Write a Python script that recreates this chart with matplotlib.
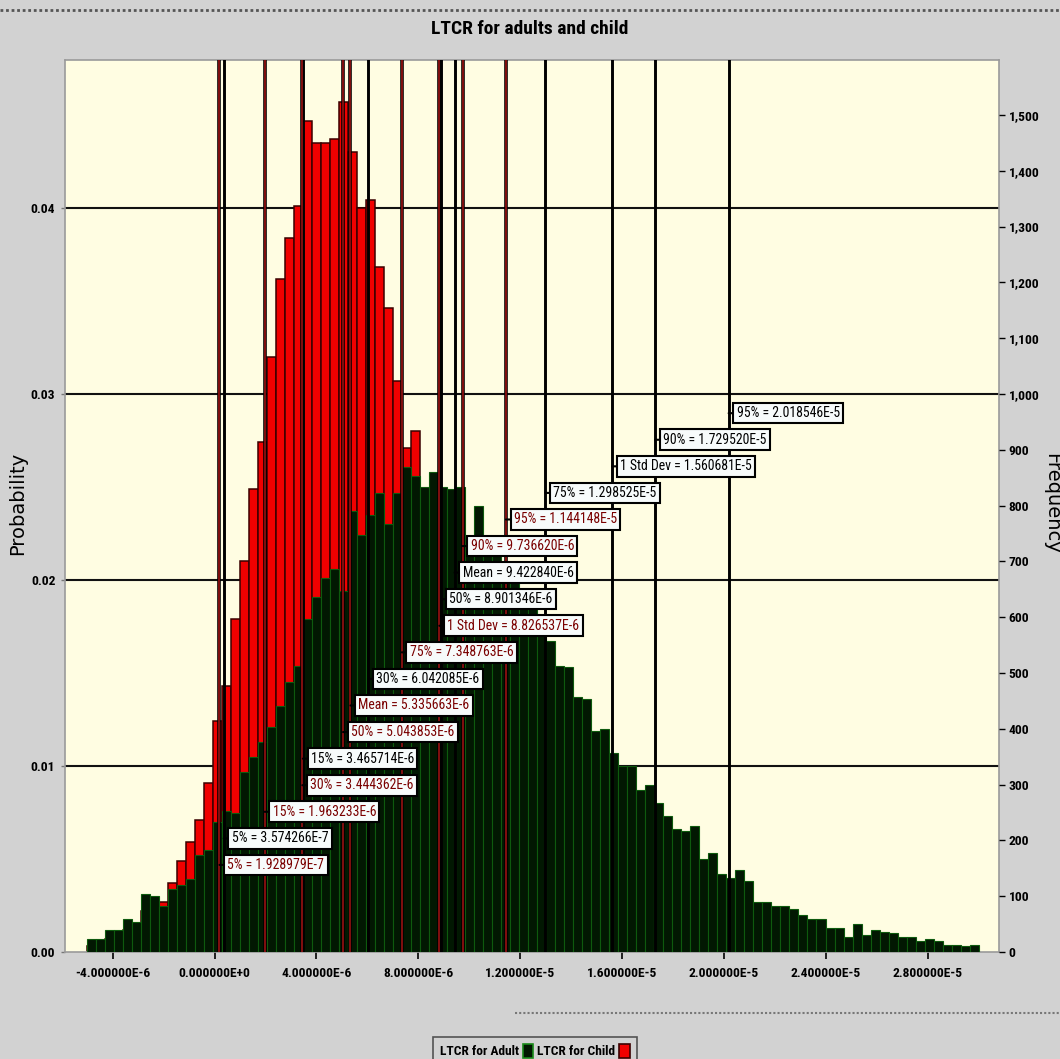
import numpy as np
import matplotlib
matplotlib.use("Agg")
import matplotlib.pyplot as plt
from matplotlib.lines import Line2D
from matplotlib.patches import Patch
from matplotlib import font_manager as fm

# ---------------- data ----------------
title = "LTCR for adults and child"
series_names = ["LTCR for Adult", "LTCR for Child"]

bin_start = -5.022e-6
bin_width = 3.538e-7

adult_prob = [
    0.0007, 0.0007, 0.0012, 0.0012, 0.0018, 0.0016, 0.0031, 0.0030, 0.0025, 0.0034,
    0.0036, 0.0039, 0.0052, 0.0055, 0.0070, 0.0076, 0.0075, 0.0097, 0.0105, 0.0113,
    0.0121, 0.0132, 0.0145, 0.0154, 0.0179, 0.0191, 0.0201, 0.0206, 0.0194, 0.0237,
    0.0224, 0.0235, 0.0247, 0.0230, 0.0247, 0.0261, 0.0256, 0.0250, 0.0258, 0.0250,
    0.0249, 0.0250, 0.0222, 0.0240, 0.0222, 0.0215, 0.0208, 0.0200, 0.0192, 0.0185,
    0.0177, 0.0167, 0.0154, 0.0153, 0.0137, 0.0136, 0.0119, 0.0120, 0.0107, 0.0100,
    0.0100, 0.0087, 0.0090, 0.0080, 0.0073, 0.0066, 0.0065, 0.0068, 0.0050, 0.0053,
    0.0042, 0.0040, 0.0044, 0.0038, 0.0027, 0.0027, 0.0025, 0.0025, 0.0023, 0.0020,
    0.0018, 0.0018, 0.0013, 0.0013, 0.0008, 0.0015, 0.0009, 0.0012, 0.0011, 0.0010,
    0.0008, 0.0008, 0.0006, 0.0007, 0.0006, 0.0004, 0.0004, 0.0003, 0.0004,
]

child_prob = [
    0.0003, 0.0004, 0.0007, 0.0009, 0.0012, 0.0013, 0.0022, 0.0024, 0.0027, 0.0037,
    0.0049, 0.0059, 0.0071, 0.0091, 0.0124, 0.0143, 0.0179, 0.0210, 0.0249, 0.0274,
    0.0320, 0.0362, 0.0384, 0.0401, 0.0447, 0.0435, 0.0435, 0.0437, 0.0457, 0.0430,
    0.0400, 0.0404, 0.0368, 0.0346, 0.0307, 0.0271, 0.0280, 0.0220, 0.0190, 0.0165,
    0.0140, 0.0118, 0.0098, 0.0080, 0.0064, 0.0050, 0.0039, 0.0030, 0.0022, 0.0016,
    0.0011, 0.0007, 0.0004, 0.0002, 0.0, 0.0, 0.0, 0.0, 0.0, 0.0,
    0.0, 0.0, 0.0, 0.0, 0.0, 0.0, 0.0, 0.0, 0.0, 0.0,
    0.0, 0.0, 0.0, 0.0, 0.0, 0.0, 0.0, 0.0, 0.0, 0.0,
    0.0, 0.0, 0.0, 0.0, 0.0, 0.0, 0.0, 0.0, 0.0, 0.0,
    0.0, 0.0, 0.0, 0.0, 0.0, 0.0, 0.0, 0.0, 0.0,
]

adult_stat_names = ["5%", "15%", "30%", "50%", "Mean", "75%", "1 Std Dev", "90%", "95%"]
adult_stat_values = [3.574266e-7, 3.465714e-6, 6.042085e-6, 8.901346e-6, 9.422840e-6,
                     1.298525e-5, 1.560681e-5, 1.729520e-5, 2.018546e-5]
adult_stat_text = ["3.574266E-7", "3.465714E-6", "6.042085E-6", "8.901346E-6", "9.422840E-6",
                   "1.298525E-5", "1.560681E-5", "1.729520E-5", "2.018546E-5"]

child_stat_names = ["5%", "15%", "30%", "50%", "Mean", "75%", "1 Std Dev", "90%", "95%"]
child_stat_values = [1.928979e-7, 1.963233e-6, 3.444362e-6, 5.043853e-6, 5.335663e-6,
                     7.348763e-6, 8.826537e-6, 9.736620e-6, 1.144148e-5]
child_stat_text = ["1.928979E-7", "1.963233E-6", "3.444362E-6", "5.043853E-6", "5.335663E-6",
                   "7.348763E-6", "8.826537E-6", "9.736620E-6", "1.144148E-5"]

x_ticks = [-4e-6, 0.0, 4e-6, 8e-6, 1.2e-5, 1.6e-5, 2.0e-5, 2.4e-5, 2.8e-5]
x_tick_labels = ["-4.000000E-6", "0.000000E+0", "4.000000E-6", "8.000000E-6", "1.200000E-5",
                 "1.600000E-5", "2.000000E-5", "2.400000E-5", "2.800000E-5"]
y_ticks = [0.00, 0.01, 0.02, 0.03, 0.04]
freq_ticks = list(range(0, 1501, 100))
freq_per_prob = 33333.3

# ---------------- fonts: prefer a narrow face if one is installed ----------------
FONT = ['Liberation Sans', 'DejaVu Sans']
STRETCH = 'normal'
narrow = False
_fonts = fm.fontManager.ttflist
_names = {f.name for f in _fonts}
for cand in ['Liberation Sans Narrow', 'Arial Narrow', 'Roboto Condensed',
             'Open Sans Condensed', 'DejaVu Sans Condensed']:
    if cand in _names:
        FONT = [cand, 'DejaVu Sans']
        narrow = True
        break
if not narrow:
    for f in _fonts:
        if f.name in ('DejaVu Sans', 'Open Sans', 'Roboto', 'Noto Sans') and \
                str(f.stretch) in ('condensed', 'semi-condensed', 'extra-condensed'):
            FONT = [f.name, 'DejaVu Sans']
            STRETCH = f.stretch
            narrow = True
            break

LBL_SIZE = 9.9 if narrow else 8.4
TITLE_SIZE = 14 if narrow else 12.3
TICK_SIZE = 9.7 if narrow else 8.8
LEG_SIZE = 9.6 if narrow else 8.2

# ---------------- styling ----------------
FIG_BG = '#d2d2d2'
PLOT_BG = '#fffde2'
ADULT_FACE = '#021802'
ADULT_EDGE = '#0e5a0e'
CHILD_FACE = '#f00000'
CHILD_EDGE = '#3a0000'
CHILD_LINE = '#8c1010'
CHILD_TEXT = '#7a0000'

fig = plt.figure(figsize=(10.6, 10.59), dpi=100, facecolor=FIG_BG)
ax = fig.add_axes([0.0613, 0.1010, 0.8811, 0.8423])
ax.set_facecolor(PLOT_BG)

n_bins = len(adult_prob)
edges = bin_start + bin_width * np.arange(n_bins + 1)

ax.set_xlim(-5.874e-6, 3.080e-5)
ax.set_ylim(0, 0.04795)

# grid lines (behind bars)
for yv in y_ticks[1:]:
    ax.axhline(yv, color='#111111', lw=1.5, zorder=1)

ax.bar(edges[:-1], child_prob, width=bin_width, align='edge', color=CHILD_FACE,
       edgecolor=CHILD_EDGE, linewidth=1.1, zorder=2)
ax.bar(edges[:-1], adult_prob, width=bin_width, align='edge', color=ADULT_FACE,
       edgecolor=ADULT_EDGE, linewidth=0.8, zorder=3)

# statistic lines
for v in adult_stat_values:
    ax.axvline(v, color='black', lw=2.1, zorder=4)
for v in child_stat_values:
    ax.axvline(v, color='black', lw=2.6, zorder=4)
    ax.axvline(v, color=CHILD_LINE, lw=1.3, zorder=4.1)

# labels, stacked from highest value down
entries = []
for n, v, t in zip(adult_stat_names, adult_stat_values, adult_stat_text):
    entries.append((v, f"{n} = {t}", 'black'))
for n, v, t in zip(child_stat_names, child_stat_values, child_stat_text):
    entries.append((v, f"{n} = {t}", CHILD_TEXT))
entries.sort(key=lambda e: -e[0])

top_frac = 0.6041
step_frac = 0.02979
for k, (v, txt, col) in enumerate(entries):
    yf = top_frac - k * step_frac
    ax.annotate(txt, xy=(v, yf), xycoords=('data', 'axes fraction'),
                xytext=(8, 0), textcoords='offset pixels',
                ha='left', va='center', fontsize=LBL_SIZE, color=col, family=FONT,
                fontstretch=STRETCH,
                bbox=dict(boxstyle='square,pad=0.24', fc='#f7fbfb', ec='black', lw=1.5),
                arrowprops=dict(arrowstyle='-', color='black', lw=1.5,
                                shrinkA=0, shrinkB=0),
                zorder=6)

# axes ticks
ax.set_xticks(x_ticks)
ax.set_xticklabels(x_tick_labels, family=FONT, fontsize=TICK_SIZE, fontweight='bold',
                   fontstretch=STRETCH)
ax.set_yticks(y_ticks)
ax.set_yticklabels([f"{t:.2f}" for t in y_ticks], family=FONT, fontsize=TICK_SIZE,
                   fontweight='bold', fontstretch=STRETCH)
ax.tick_params(axis='x', direction='out', length=5, width=1.2, color='black', pad=6)
ax.tick_params(axis='y', direction='out', length=3, width=1, color='#777777', pad=4)

for s in ax.spines.values():
    s.set_color('#9a9a9a')
    s.set_linewidth(1.2)

ax2 = ax.twinx()
ax2.set_ylim(0, 0.04795 * freq_per_prob)
ax2.set_yticks(freq_ticks)
ax2.set_yticklabels([f"{t:,}" for t in freq_ticks], family=FONT, fontsize=TICK_SIZE,
                    fontweight='bold', fontstretch=STRETCH)
ax2.tick_params(axis='y', direction='out', length=4, width=1, color='black', pad=3)
for s in ax2.spines.values():
    s.set_visible(False)

fig.text(0.017, 0.525, "Probability", rotation=90, ha='center', va='center',
         fontsize=14, family=['DejaVu Sans'])
fig.text(0.992, 0.525, "Frequency", rotation=270, ha='center', va='center',
         fontsize=14, family=['DejaVu Sans'])

fig.text(0.5, 0.973, title, ha='center', va='center', fontsize=TITLE_SIZE,
         fontweight='bold', family=FONT, fontstretch=STRETCH)

# decorative separator lines
fig.add_artist(Line2D([0.0, 1.0], [0.991, 0.991], transform=fig.transFigure,
                      color='#555555', lw=2, ls=(0, (1, 1))))
fig.add_artist(Line2D([0.486, 1.0], [0.043, 0.043], transform=fig.transFigure,
                      color='#777777', lw=1.5, ls=(0, (1, 1))))

handles = [Patch(facecolor=ADULT_FACE, edgecolor='#1a8a1a', lw=1.2),
           Patch(facecolor=CHILD_FACE, edgecolor=CHILD_EDGE, lw=1.2)]
leg = fig.legend(handles, series_names, loc='lower center', bbox_to_anchor=(0.5045, -0.012),
                 ncol=2, markerfirst=False, frameon=True, fancybox=False,
                 prop={'family': FONT, 'size': LEG_SIZE, 'weight': 'bold',
                       'stretch': STRETCH},
                 handlelength=0.8, handleheight=1.3, handletextpad=0.3, columnspacing=0.3,
                 borderpad=0.5)
leg.get_frame().set_facecolor(FIG_BG)
leg.get_frame().set_edgecolor('#333333')
leg.get_frame().set_linewidth(1.2)

fig.savefig("out.png", dpi=100, facecolor=FIG_BG)
